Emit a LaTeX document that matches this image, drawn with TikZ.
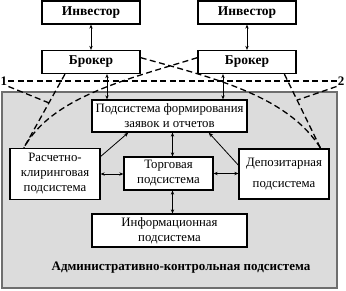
\documentclass[tikz,border=0pt]{standalone}
\usepackage{fontspec}
\setmainfont{Liberation Serif}
\usepackage{xcolor}
\definecolor{panel}{HTML}{DCDCDC}
\definecolor{panelline}{HTML}{6E6E6E}
\usetikzlibrary{arrows.meta,calc}
\tikzset{box/.style={draw=black,line width=1.3pt,fill=white,align=center,inner sep=2pt},dbl/.style={{Stealth[length=4pt,width=3.4pt]}-{Stealth[length=4pt,width=3.4pt]},line width=.8pt},one/.style={-{Stealth[length=4.5pt,width=3.6pt]},line width=.8pt},dsh/.style={dash pattern=on 6pt off 3.5pt,line width=1.3pt}}

\begin{document}
\begin{tikzpicture}[x=1pt,y=-1pt,font=\fontsize{12.8}{15}\selectfont,
top/.style={box,font=\fontsize{13.5}{15}\selectfont\bfseries,minimum width=98pt,minimum height=23pt},
sub/.style={box,minimum width=90pt,minimum height=50pt},
wide/.style={box,minimum width=155pt,minimum height=32pt}]
\useasboundingbox (0,0) rectangle (346,290);
\node[draw=panelline,fill=panel,line width=1.2pt,minimum width=335pt,minimum height=196pt] (adm) at (169.5,190) {};
\node[top] (inv1) at (91,12.5) {Инвестор};
\node[top] (inv2) at (247,12.5) {Инвестор};
\node[top] (br1) at (91,62) {Брокер};
\node[top] (br2) at (247,62) {Брокер};
\node[font=\fontsize{13}{15}\selectfont\bfseries,inner sep=1pt] (n1) at (4,81) {1};
\node[font=\fontsize{13}{15}\selectfont\bfseries,inner sep=1pt] (n2) at (341,81) {2};
\node[wide] (form) at (169.5,116) {Подсистема формирования\\заявок и отчетов};
\node[sub,minimum height=51pt] (rk) at (55,174) {Расчетно-\\клиринговая\\подсистема};
\node[box,minimum width=89pt,minimum height=33pt] (trade) at (168.5,173.5) {Торговая\\подсистема};
\node[sub] (dep) at (284,174) {Депозитарная\\[6pt]подсистема};
\node[wide,minimum height=33pt] (info) at (169.5,230.5) {Информационная\\подсистема};
\node[font=\fontsize{13}{15}\selectfont\bfseries] (admlbl) at (181,268) {Административно-контрольная подсистема};
\draw[dsh] (n1.east) -- (n2.west);
\draw[dsh] (br1.205) -- (rk.140);
\draw[dsh] (br2.342) -- (dep.35);
\draw[dsh] (n1.south east) -- ($(br1.205)!.39!(rk.140)$);
\draw[dsh] (n2.south west) -- ($(br2.342)!.35!(dep.35)$);
\draw[dsh] (br2.175) .. controls (125,80) and (52,97) .. (rk.140);
\draw[dsh] (br1.5) .. controls (214,78) and (288,96) .. (dep.35);
\draw[dbl] (inv1) -- (br1);
\draw[dbl] (inv2) -- (br2);
\draw[dbl] ($(br1.south)+(16,0)$) -- ($(br1.south |- form.north)+(16,0)$);
\draw[dbl] ($(br2.south)+(-24,0)$) -- ($(br2.south |- form.north)+(-24,0)$);
\draw[dbl] ($(trade.north)+(4,0)$) -- ($(trade.north |- form.south)+(4,0)$);
\draw[dbl] ($(trade.south)+(4,0)$) -- ($(trade.south |- info.north)+(4,0)$);
\draw[dbl] (rk.east) -- (rk.east -| trade.west);
\draw[dbl] (trade.east) -- (trade.east -| dep.west);
\draw[one] (rk.21) -- (form.202);
\draw[one] (dep.169) -- (form.337);
\end{tikzpicture}
\end{document}
